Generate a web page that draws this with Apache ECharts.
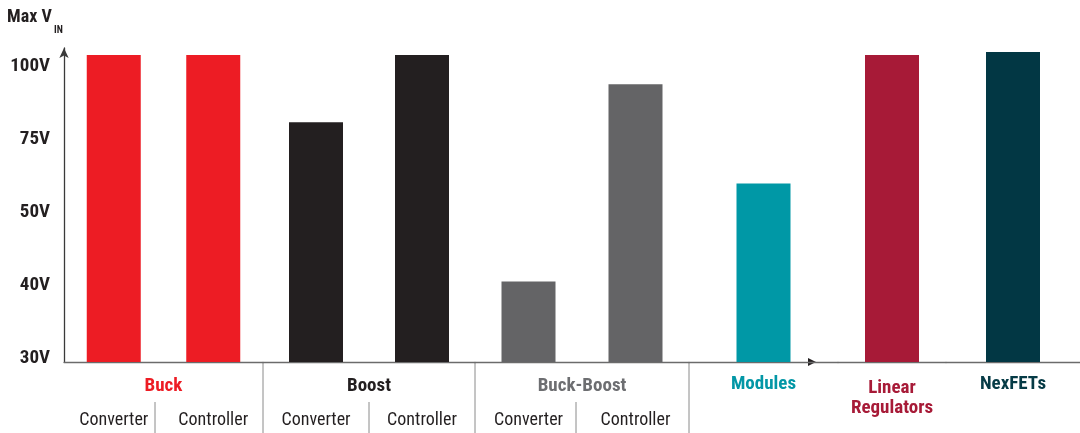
<!DOCTYPE html>
<html>
<head>
<meta charset="utf-8">
<script src="https://cdn.jsdelivr.net/npm/echarts@6/dist/echarts.min.js"></script>
<style>
html,body{margin:0;padding:0;background:#fff;}
#chart{width:1080px;height:433px;}
</style>
</head>
<body>
<div id="chart"></div>
<script>
// ---- data ----
const categories = ['Converter','Controller','Converter','Controller','Converter','Controller','Modules','Linear\nRegulators','NexFETs'];
const groupNames = ['Buck','Boost','Buck-Boost'];
const maxVin = [105,105,82,105,41,95,61,105,106];
const tickVolts = [30,40,50,75,100];
const tickLabels = ['30V','40V','50V','75V','100V'];

// ---- styles ----
const FONT = "'Liberation Sans Narrow','Roboto Condensed','Roboto',sans-serif";
const barColors = ['#ED1C24','#ED1C24','#231F20','#231F20','#646466','#646466','#0098A6','#A71A37','#023744'];
const groupColors = ['#ED1C24','#231F20','#6D6E71'];
const labelColors = {6:'#0397A6',7:'#A71A37',8:'#063B46'};

// scale: non-linear ordinal axis (equal spacing between tick voltages)
function toPos(v){
  for(let i=0;i<tickVolts.length-1;i++){
    if(v<=tickVolts[i+1]) return i+(v-tickVolts[i])/(tickVolts[i+1]-tickVolts[i]);
  }
  const n=tickVolts.length-1;
  return n+(v-tickVolts[n])/(tickVolts[n]-tickVolts[n-1]);
}

const W=1080, H=433, AXIS_Y=362;
const panels = [
  {left:64,  right:263, idx:[0,1], name:0},
  {left:263, right:475, idx:[2,3], name:1},
  {left:475, right:689, idx:[4,5], name:2},
  {left:689, right:838, idx:[6]},
  {left:838, right:946, idx:[7]},
  {left:946, right:1080, idx:[8]}
];
const YMAX = 4.295;

const grid=[], xAxis=[], yAxis=[], series=[];
panels.forEach((p,gi)=>{
  grid.push({left:p.left, width:p.right-p.left, top:48, bottom:H-AXIS_Y, containLabel:false, outerBoundsMode:'none'});
  const single = p.idx.length===1;
  const ci = p.idx[0];
  xAxis.push({
    type:'category', gridIndex:gi,
    data:p.idx.map(i=>categories[i]),
    axisLine:{show:true, lineStyle:{color:'#6b6b6b', width:1.3}},
    axisTick:{show:false},
    axisLabel: single ? {
      margin: ci===7 ? 16 : 12,
      fontFamily:FONT, fontWeight:'bold', fontSize:19, lineHeight:20,
      color:labelColors[ci], interval:0
    } : {
      margin:49, fontFamily:FONT, fontSize:18, color:'#231F20', interval:0
    },
    name: single ? '' : groupNames[p.name],
    nameLocation:'middle', nameGap:15, nameMoveOverlap:false,
    nameTextStyle: single ? {} : {fontFamily:FONT, fontWeight:'bold', fontSize:19, color:groupColors[p.name]}
  });
  yAxis.push({
    type:'value', gridIndex:gi, min:0, max:YMAX, interval:1,
    show: gi===0,
    axisLine:{show:gi===0, lineStyle:{color:'#3a3a3a', width:1.3}, symbol:['none','arrow'], symbolSize:[7,10]},
    axisTick:{show:false},
    splitLine:{show:false},
    axisLabel:{
      show:gi===0, margin:14, fontFamily:FONT, fontWeight:'bold', fontSize:19, color:'#231F20',
      verticalAlign:'bottom', lineHeight:7,
      formatter:(v)=> Number.isInteger(v) && tickLabels[v] ? tickLabels[v] : ''
    }
  });
  series.push({
    type:'bar', xAxisIndex:gi, yAxisIndex:gi, barWidth:54,
    data:p.idx.map(i=>({value:toPos(maxVin[i]), itemStyle:{color:barColors[i]}})),
    silent:true, animation:false
  });
});

const lineStyle={stroke:'#8a8a8a', lineWidth:1};
const graphic=[
  {type:'text', left:7, top:8, style:{text:'Max V', font:"bold 18px "+FONT, fill:'#231F20'}},
  {type:'text', left:54, top:25, style:{text:'IN', font:"bold 10px "+FONT, fill:'#231F20'}},
  // group dividers
  ...[263,475,689].map(x=>({type:'line', shape:{x1:x,y1:AXIS_Y,x2:x,y2:H}, style:lineStyle})),
  ...[155,369,576].map(x=>({type:'line', shape:{x1:x,y1:402,x2:x,y2:H}, style:lineStyle})),
  // arrow head on the baseline
  {type:'polygon', shape:{points:[[808,358],[808,366],[816,362]]}, style:{fill:'#231F20'}}
];

const chart = echarts.init(document.getElementById('chart'));
chart.setOption({
  animation:false,
  backgroundColor:'#fff',
  grid, xAxis, yAxis, series, graphic
});
</script>
</body>
</html>
